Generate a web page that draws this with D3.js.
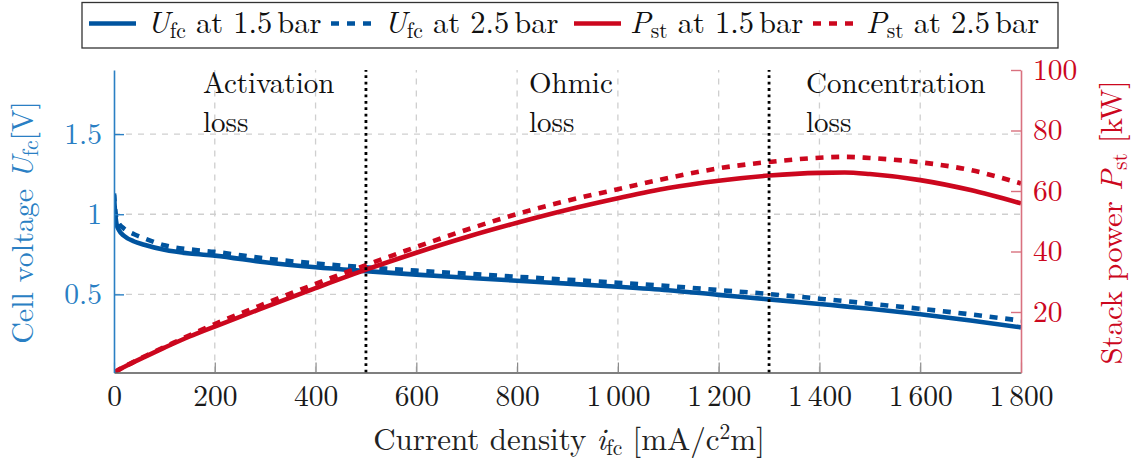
<!DOCTYPE html>
<html><head><meta charset="utf-8">
<script src="https://cdn.jsdelivr.net/npm/d3@7"></script>
</head><body style="margin:0;background:#fff">
<svg id="c" width="1143" height="463"></svg>
<script>
// ---- data ----
const currentDensity = [0, 2, 5, 10, 20, 40, 60, 100, 150, 200, 300, 400, 500, 600, 700, 800, 900, 1000, 1100, 1200, 1300, 1400, 1450, 1500, 1600, 1700, 1800];
const uAt15bar = [1.12, 1.02, 0.94, 0.90, 0.865, 0.83, 0.81, 0.778, 0.755, 0.742, 0.70, 0.669, 0.645, 0.623, 0.604, 0.585, 0.567, 0.548, 0.526, 0.497, 0.469, 0.44, 0.425, 0.41, 0.376, 0.337, 0.294];
const uAt25bar = [1.13, 1.04, 0.97, 0.94, 0.91, 0.875, 0.85, 0.806, 0.781, 0.765, 0.724, 0.693, 0.669, 0.648, 0.629, 0.61, 0.592, 0.573, 0.552, 0.527, 0.502, 0.473, 0.458, 0.442, 0.41, 0.375, 0.336];
const pAt15bar = [0, 0.2, 0.5, 0.95, 1.8, 3.5, 5.1, 8.2, 11.9, 15.2, 21.6, 27.9, 34.0, 39.6, 44.8, 49.5, 53.8, 57.6, 61.0, 63.4, 65.1, 66.0, 66.1, 65.6, 63.6, 60.3, 55.9];
const pAt25bar = [0, 0.2, 0.5, 1.0, 1.9, 3.6, 5.3, 8.4, 12.3, 16.0, 22.8, 29.3, 35.5, 41.5, 47.2, 52.4, 56.8, 60.6, 64.3, 67.5, 69.6, 71.0, 71.3, 70.9, 69.5, 66.9, 62.5];
const xTickValues = [0, 200, 400, 600, 800, 1000, 1200, 1400, 1600, 1800];
const leftTickValues = [0.5, 1, 1.5];
const rightTickValues = [20, 40, 60, 80, 100];
const lossBoundaries = [500, 1300];
const regionNames = ["Activation", "Ohmic", "Concentration"];
const regionSecondLine = ["loss", "loss", "loss"];
const legendPressures = ["1.5", "2.5", "1.5", "2.5"];

// ---- layout / style ----
const L = 114, R = 1021, T = 70, B = 372.5;
const BLUE = "#00549F", RED = "#CC071E";
const AXBLUE = "#2a7fc4", AXRED_LINE = "#d9717f";
const FS = 29.5;
const FONT = `"Latin Modern Roman", "Liberation Serif", serif`;

const svg = d3.select("#c");
const x = d3.scaleLinear().domain([0, 1800]).range([L, R]);
const yL = d3.scaleLinear().domain([0.0125, 1.9]).range([B, T]);
const yR = d3.scaleLinear().domain([0, 100]).range([B, T]);

svg.append("defs").append("clipPath").attr("id", "clip")
  .append("rect").attr("x", L).attr("y", T).attr("width", R - L).attr("height", B - T);

function txt(parent) {
  return parent.append("text").style("font-family", FONT);
}

// grid
const grid = svg.append("g").attr("stroke", "#cfcfcf").attr("stroke-width", 1.3).attr("stroke-dasharray", "6,6");
grid.selectAll("line.v").data(xTickValues.filter(d => d > 0 && d < 1800)).join("line")
  .attr("x1", d => x(d)).attr("x2", d => x(d)).attr("y1", B).attr("y2", T);
grid.selectAll("line.h").data(leftTickValues).join("line")
  .attr("y1", d => yL(d)).attr("y2", d => yL(d)).attr("x1", L).attr("x2", R);

// curves
const series = [
  {vals: uAt15bar, y: yL, color: BLUE, dash: null},
  {vals: uAt25bar, y: yL, color: BLUE, dash: "8,7.7"},
  {vals: pAt15bar, y: yR, color: RED, dash: null},
  {vals: pAt25bar, y: yR, color: RED, dash: "8,7.7"}
];
const plot = svg.append("g").attr("clip-path", "url(#clip)");
series.forEach(s => {
  const line = d3.line().x((d, i) => x(currentDensity[i])).y(d => s.y(d)).curve(d3.curveMonotoneX);
  plot.append("path").attr("d", line(s.vals)).attr("fill", "none")
    .attr("stroke", s.color).attr("stroke-width", 4.6)
    .attr("stroke-dasharray", s.dash);
});

// loss region boundaries
svg.append("g").selectAll("line").data(lossBoundaries).join("line")
  .attr("x1", d => x(d)).attr("x2", d => x(d)).attr("y1", B).attr("y2", T)
  .attr("stroke", "#000").attr("stroke-width", 2.8).attr("stroke-dasharray", "2.8,3.6");

// region labels
const regionX = [203, 529, 806];
regionNames.forEach((name, i) => {
  txt(svg).attr("x", regionX[i]).attr("y", 93).attr("font-size", 29).attr("fill", "#111").text(name);
  txt(svg).attr("x", regionX[i]).attr("y", 132).attr("font-size", 29).attr("fill", "#111").text(regionSecondLine[i]);
});

// axes
const gx = svg.append("g").attr("transform", `translate(0,${B})`)
  .call(d3.axisBottom(x).tickValues(xTickValues).tickSizeInner(-10).tickSizeOuter(0).tickFormat(d => String(d)));
gx.select(".domain").attr("stroke", "#555").attr("stroke-width", 1.6);
gx.selectAll(".tick line").attr("stroke", "#8a8a8a").attr("stroke-width", 1.2);
gx.selectAll(".tick text").attr("y", 33).attr("dy", null).attr("font-size", FS)
  .style("font-family", FONT).attr("fill", "#1a1a1a")
  .each(function(d) {
    if (d >= 1000) {
      const s = String(d), t = d3.select(this).text("");
      t.append("tspan").text(s.slice(0, s.length - 3));
      t.append("tspan").attr("dx", 5).text(s.slice(-3));
    }
  });

const gl = svg.append("g").attr("transform", `translate(${L},0)`)
  .call(d3.axisLeft(yL).tickValues(leftTickValues).tickSizeInner(-10).tickSizeOuter(0).tickPadding(12).tickFormat(d => String(d)));
gl.select(".domain").attr("stroke", AXBLUE).attr("stroke-width", 1.6);
gl.selectAll(".tick line").attr("stroke", AXBLUE).attr("stroke-width", 1.4);
gl.selectAll(".tick text").attr("font-size", FS).style("font-family", FONT).attr("fill", AXBLUE);

const gr = svg.append("g").attr("transform", `translate(${R},0)`)
  .call(d3.axisRight(yR).tickValues(rightTickValues).tickSizeInner(-10).tickSizeOuter(0).tickPadding(12));
gr.select(".domain").attr("stroke", AXRED_LINE).attr("stroke-width", 1.6);
gr.selectAll(".tick line").attr("stroke", AXRED_LINE).attr("stroke-width", 1.4);
gr.selectAll(".tick text").attr("font-size", FS).style("font-family", FONT).attr("fill", RED);

// axis titles
const SUB = 21.5;
const xt = txt(svg).attr("x", 569).attr("y", 450).attr("text-anchor", "middle").attr("font-size", 31).attr("fill", "#222");
xt.append("tspan").text("Current density ");
xt.append("tspan").attr("font-style", "italic").text("i");
xt.append("tspan").attr("font-size", SUB).attr("dy", 4.5).text("fc");
xt.append("tspan").attr("dy", -4.5).text(" [mA/c");
xt.append("tspan").attr("font-size", SUB).attr("dy", -11).text("2");
xt.append("tspan").attr("dy", 11).text("m]");

const lt = txt(svg).attr("transform", "translate(33,222.5) rotate(-90)").attr("text-anchor", "middle").attr("font-size", 30).attr("fill", AXBLUE);
lt.append("tspan").text("Cell voltage ");
lt.append("tspan").attr("font-style", "italic").text("U");
lt.append("tspan").attr("font-size", SUB).attr("dy", 4.5).text("fc");
lt.append("tspan").attr("dy", -4.5).text("[V]");

const rt = txt(svg).attr("transform", "translate(1122,222.5) rotate(-90)").attr("text-anchor", "middle").attr("font-size", 30.8).attr("fill", RED);
rt.append("tspan").text("Stack power ");
rt.append("tspan").attr("font-style", "italic").text("P");
rt.append("tspan").attr("font-size", SUB).attr("dy", 4.5).text("st");
rt.append("tspan").attr("dy", -4.5).text(" [kW]");

// legend
const lg = svg.append("g");
lg.append("rect").attr("x", 82).attr("y", 2.5).attr("width", 976).attr("height", 45.5)
  .attr("fill", "#fff").attr("stroke", "#333").attr("stroke-width", 1.3);
const legSample = [[89, 136], [331, 371], [574, 621], [813, 853]];
const legTextX = [147, 384, 630, 866];
const legSym = ["U", "U", "P", "P"];
const legSub = ["fc", "fc", "st", "st"];
series.forEach((s, i) => {
  lg.append("line").attr("x1", legSample[i][0]).attr("x2", legSample[i][1]).attr("y1", 23.5).attr("y2", 23.5)
    .attr("stroke", s.color).attr("stroke-width", 4.6).attr("stroke-dasharray", s.dash ? "8,8" : null);
  const t = txt(lg).attr("x", legTextX[i]).attr("y", 33.3).attr("font-size", 30.5).attr("fill", "#111");
  t.append("tspan").attr("font-style", "italic").text(legSym[i]);
  t.append("tspan").attr("font-size", SUB).attr("dy", 4.5).text(legSub[i]);
  t.append("tspan").attr("dy", -4.5).text(" at " + legendPressures[i]);
  t.append("tspan").attr("dx", 5).text("bar");
});
</script>
</body></html>
